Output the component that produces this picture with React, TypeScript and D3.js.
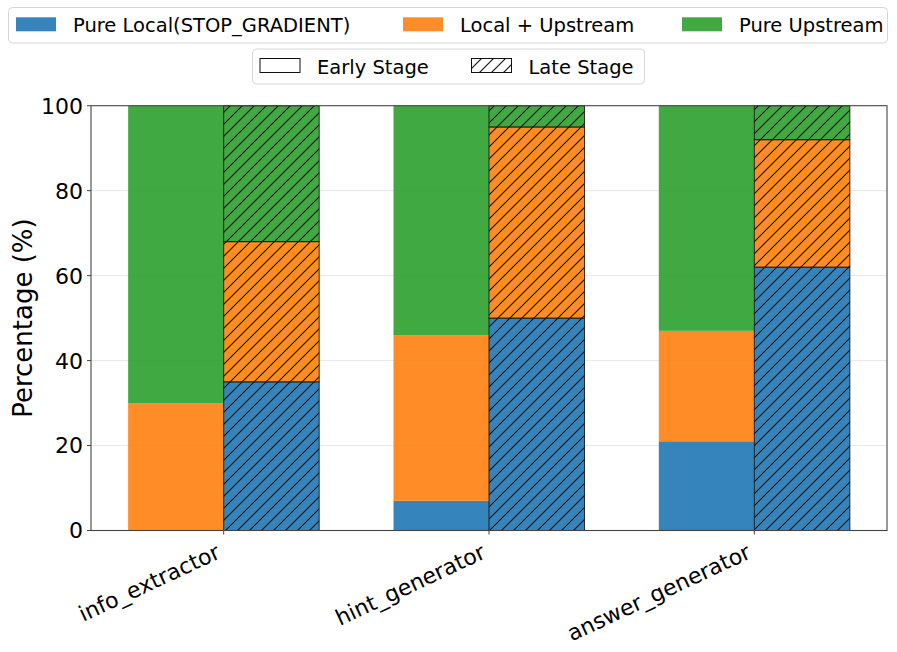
import React from 'react'
import * as d3 from 'd3'

// data
const agents = ['info_extractor', 'hint_generator', 'answer_generator']
const stages = ['Early Stage', 'Late Stage']
const categories = ['Pure Local(STOP_GRADIENT)', 'Local + Upstream', 'Pure Upstream']
const categoryColors = ['#1f77b4', '#ff7f0e', '#2ca02c']

const earlyPureLocal = [0, 7, 21]
const earlyLocalUpstream = [30, 39, 26]
const earlyPureUpstream = [70, 54, 53]

const latePureLocal = [35, 50, 62]
const lateLocalUpstream = [33, 45, 30]
const latePureUpstream = [32, 5, 8]

const yTicks = [0, 20, 40, 60, 80, 100]

const W = 897
const H = 652
const margin = { left: 91, right: 10, top: 105.7, bottom: 121.5 }
const barWidth = 0.36
const font = '"DejaVu Sans", sans-serif'

const x = d3.scaleLinear().domain([-0.5, 2.5]).range([margin.left, W - margin.right])
const y = d3.scaleLinear().domain([0, 100]).range([H - margin.bottom, margin.top])

const stageSeries = [
  [earlyPureLocal, earlyLocalUpstream, earlyPureUpstream],
  [latePureLocal, lateLocalUpstream, latePureUpstream]
]

interface Seg { key: string; x0: number; y0: number; y1: number; color: string; late: boolean }

const segments: Seg[] = []
stageSeries.forEach((series, s) => {
  agents.forEach((_, i) => {
    let base = 0
    series.forEach((vals, c) => {
      const v = vals[i]
      segments.push({
        key: `${s}-${i}-${c}`,
        x0: s === 0 ? i - barWidth : i,
        y0: base,
        y1: base + v,
        color: categoryColors[c],
        late: s === 1
      })
      base += v
    })
  })
})

const hatch = 12

const App: React.FC = () => {
  const bw = x(barWidth) - x(0)
  const legendCols = [16, 403, 682]
  const stageCols = [260, 471.5]
  return (
    <div>
      <style>{`body{margin:0}`}</style>
      <svg width={W} height={H} style={{ display: 'block', fontFamily: font }}>
        <defs>
          <pattern id="hatch" patternUnits="userSpaceOnUse" width={hatch} height={hatch}>
            <path
              d={`M0,${hatch} L${hatch},0 M-2,2 L2,-2 M${hatch - 2},${hatch + 2} L${hatch + 2},${hatch - 2}`}
              stroke="#111" strokeWidth={1.15}
            />
          </pattern>
        </defs>
        <rect width={W} height={H} fill="#fff" />

        {/* grid */}
        {yTicks.filter(t => t > 0 && t < 100).map(t => (
          <line key={`g${t}`} x1={margin.left} x2={W - margin.right} y1={y(t)} y2={y(t)}
            stroke="#b0b0b0" strokeOpacity={0.3} strokeWidth={1} />
        ))}

        {/* bars */}
        {segments.map(d => (
          <g key={d.key}>
            <rect x={x(d.x0)} y={y(d.y1)} width={bw} height={y(d.y0) - y(d.y1)}
              fill={d.color} fillOpacity={0.9} />
            {d.late && (
              <rect x={x(d.x0)} y={y(d.y1)} width={bw} height={y(d.y0) - y(d.y1)}
                fill="url(#hatch)" stroke="#111" strokeOpacity={0.85} strokeWidth={1} />
            )}
          </g>
        ))}

        {/* axes frame */}
        <rect x={margin.left} y={margin.top} width={W - margin.right - margin.left}
          height={H - margin.bottom - margin.top} fill="none" stroke="#444" strokeWidth={1.1} />

        {/* y ticks */}
        {yTicks.map(t => (
          <g key={`y${t}`}>
            <line x1={margin.left - 4} x2={margin.left} y1={y(t)} y2={y(t)} stroke="#444" strokeWidth={1} />
            <text x={margin.left - 8} y={y(t)} dy="0.36em" textAnchor="end" fontSize={22} fill="#000">{t}</text>
          </g>
        ))}

        {/* x ticks */}
        {agents.map((a, i) => (
          <g key={a}>
            <line x1={x(i)} x2={x(i)} y1={H - margin.bottom} y2={H - margin.bottom + 4} stroke="#444" strokeWidth={1} />
            <text transform={`translate(${x(i) - 9},${H - margin.bottom + 12}) rotate(-25)`}
              dy="0.75em" textAnchor="end" fontSize={22} fill="#000">{a}</text>
          </g>
        ))}

        {/* y label */}
        <text transform={`translate(32,${(margin.top + H - margin.bottom) / 2}) rotate(-90)`}
          textAnchor="middle" fontSize={26} fill="#000">Percentage (%)</text>

        {/* category legend */}
        <rect x={8.5} y={7.5} width={879} height={35.5} rx={4} fill="#fff" fillOpacity={0.8} stroke="#d6d6d6" />
        {categories.map((c, i) => (
          <g key={c}>
            <rect x={legendCols[i]} y={17.3} width={40} height={14} fill={categoryColors[i]} fillOpacity={0.9} />
            <text x={legendCols[i] + 57} y={32.3} fontSize={19.5} fill="#000">{c}</text>
          </g>
        ))}

        {/* stage legend */}
        <rect x={252.5} y={49} width={392} height={35} rx={4} fill="#fff" fillOpacity={0.8} stroke="#d6d6d6" />
        {stages.map((s, i) => (
          <g key={s}>
            <rect x={stageCols[i]} y={58.5} width={40} height={14} fill="#fff" stroke="#111" strokeWidth={1} />
            {i === 1 && (
              <rect x={stageCols[i]} y={58.5} width={40} height={14} fill="url(#hatch)" stroke="#111" strokeWidth={1} />
            )}
            <text x={stageCols[i] + 57} y={74.3} fontSize={19.5} fill="#000">{s}</text>
          </g>
        ))}
      </svg>
    </div>
  )
}

export default App
